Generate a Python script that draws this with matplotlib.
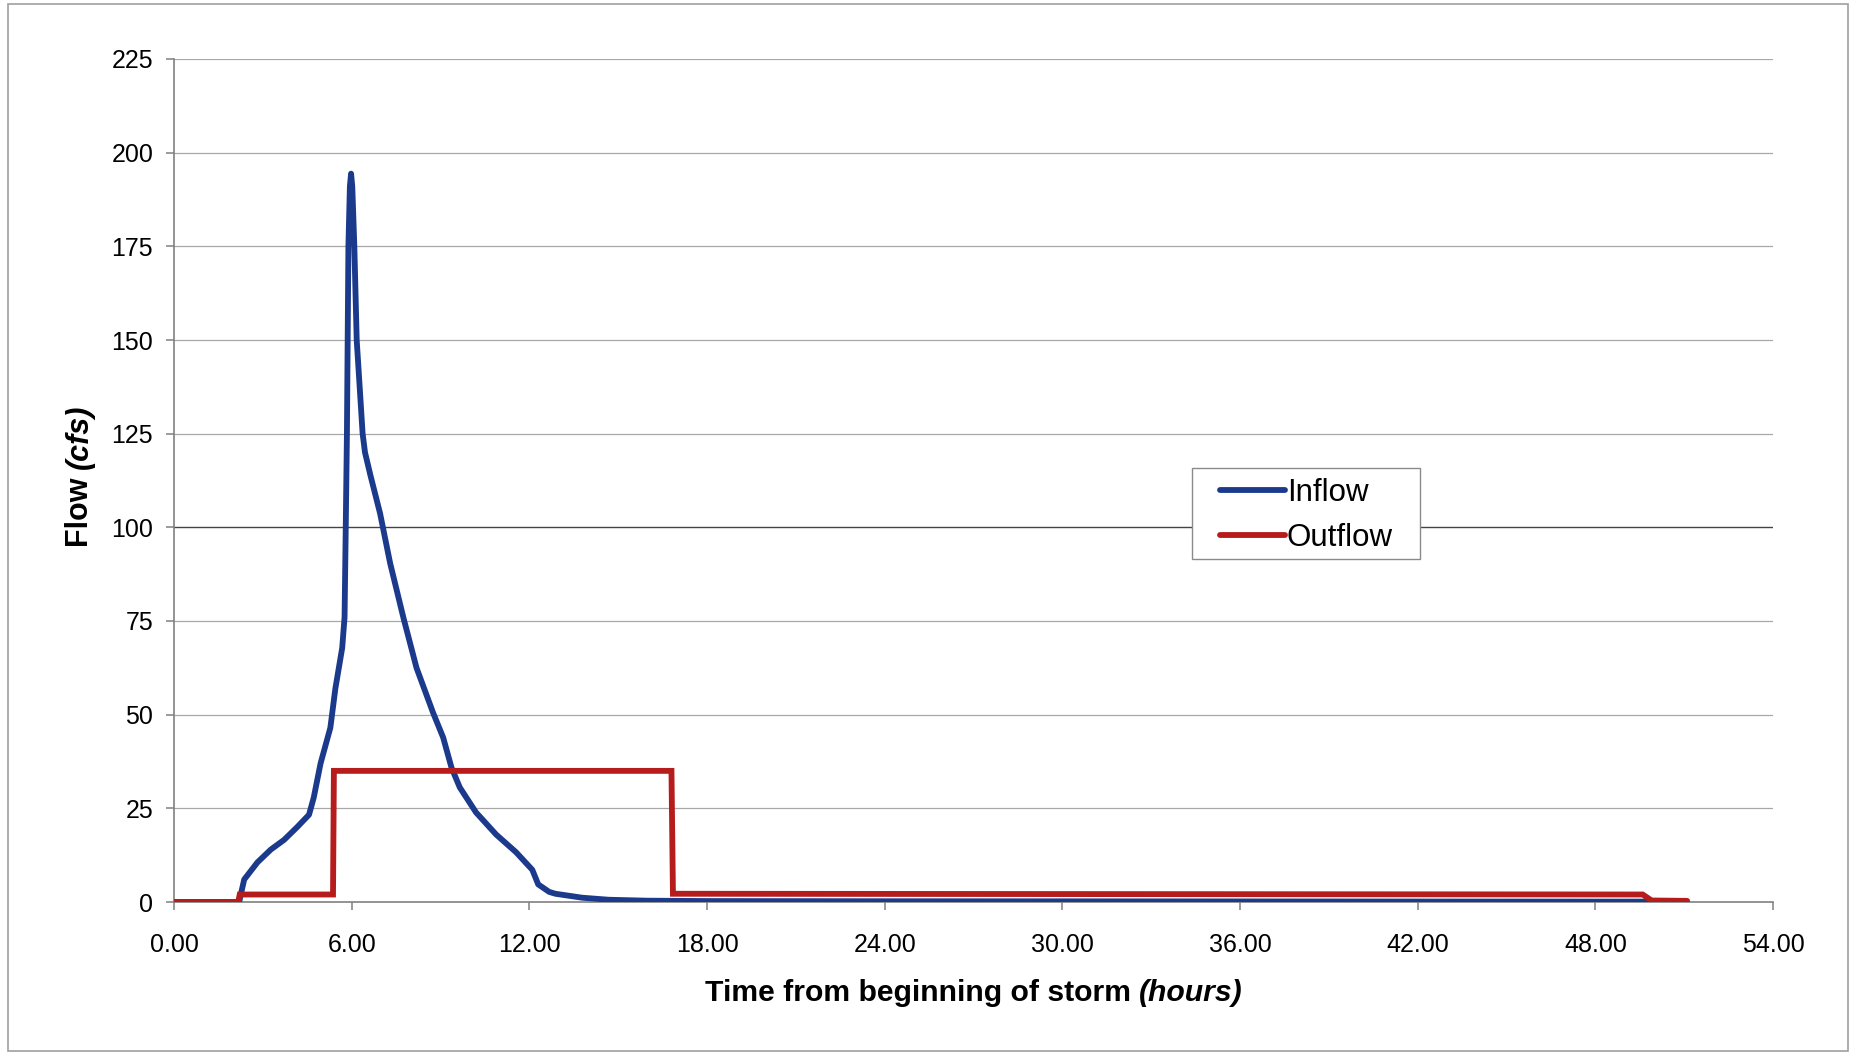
import matplotlib
matplotlib.use("Agg")
import matplotlib.pyplot as plt
from matplotlib.patches import Rectangle
from matplotlib.lines import Line2D
from matplotlib.legend_handler import HandlerLine2D

# Inflow hydrograph (hours, cfs)
inflow_t = [0.00, 2.10, 2.20, 2.37, 2.82, 3.27, 3.72, 4.16, 4.56, 4.72, 4.95,
            5.28, 5.45, 5.68, 5.76, 5.80, 5.84, 5.89, 5.94, 5.98, 6.02, 6.09,
            6.17, 6.37, 6.45, 6.63, 6.96, 7.30, 7.75, 8.19, 8.75, 9.09, 9.37,
            9.65, 10.20, 10.88, 11.55, 12.10, 12.30, 12.67, 12.88, 13.78,
            14.68, 15.97, 18.00, 24.00, 30.00, 36.00, 42.00, 49.80]
inflow_q = [0.0, 0.0, 0.0, 6.0, 10.6, 14.0, 16.6, 20.0, 23.3, 27.9, 37.0,
            46.5, 57.0, 67.8, 76.0, 100.0, 125.0, 175.0, 191.0, 194.4, 191.0,
            175.0, 150.0, 125.0, 120.0, 114.0, 103.7, 90.4, 75.8, 62.5, 50.5,
            43.9, 35.9, 30.6, 23.9, 18.0, 13.3, 8.6, 4.7, 2.7, 2.2, 1.15, 0.6,
            0.35, 0.25, 0.2, 0.18, 0.15, 0.12, 0.1]

# Outflow from the pond outlet (hours, cfs)
outflow_t = [0.00, 2.17, 2.22, 5.37, 5.40, 16.80, 16.85, 49.60, 49.90, 51.10]
outflow_q = [0.0, 0.0, 2.0, 2.0, 35.0, 35.0, 2.2, 2.0, 0.4, 0.3]

x_ticks = [0, 6, 12, 18, 24, 30, 36, 42, 48, 54]
y_ticks = [0, 25, 50, 75, 100, 125, 150, 175, 200, 225]

W, H = 1853, 1055
fig = plt.figure(figsize=(W / 100, H / 100), dpi=100)
fig.patch.set_facecolor("white")


def fig_rect(x0, y0, x1, y1, **kw):
    """Rectangle given in pixel coordinates measured from the top-left corner."""
    return Rectangle((x0 / W, 1 - y1 / H), (x1 - x0) / W, (y1 - y0) / H,
                     transform=fig.transFigure, **kw)


# outer chart frame
fig.add_artist(fig_rect(8, 4, 1848, 1051, fill=False, edgecolor="#a0a0a0",
                        linewidth=1.2))

left, right, top, bottom = 174, 1773, 59, 902
ax = fig.add_axes([left / W, 1 - bottom / H, (right - left) / W, (bottom - top) / H])

ax.set_xlim(0, 54)
ax.set_ylim(0, 225)

for v in y_ticks[1:]:
    ax.axhline(v, color="#444444" if v == 100 else "#a8a8a8",
               linewidth=1.0 if v == 100 else 0.9, zorder=1)

ax.plot(inflow_t, inflow_q, color="#1b3a8c", linewidth=4.2,
        solid_joinstyle="round", solid_capstyle="round", zorder=3, label="Inflow")
ax.plot(outflow_t, outflow_q, color="#b71c1c", linewidth=4.2,
        solid_joinstyle="miter", solid_capstyle="round", zorder=4, label="Outflow")

for s in ["top", "right"]:
    ax.spines[s].set_visible(False)
for s in ["left", "bottom"]:
    ax.spines[s].set_color("#808080")
    ax.spines[s].set_linewidth(1.2)

font = "Liberation Sans"
ax.set_xticks(x_ticks)
ax.set_xticklabels([f"{v:.2f}" for v in x_ticks], fontsize=18, family=font)
ax.set_yticks(y_ticks)
ax.set_yticklabels([str(v) for v in y_ticks], fontsize=18, family=font)
ax.tick_params(axis="both", direction="out", length=6, width=1.1,
               color="#808080")
ax.tick_params(axis="x", pad=16)
ax.tick_params(axis="y", pad=9)

# legend box with its own white frame
lx0, ly0, lx1, ly1 = 1192, 468, 1420, 559
box = fig_rect(lx0, ly0, lx1, ly1, fill=True, facecolor="white",
               edgecolor="#8a8a8a", linewidth=1.0, zorder=5, clip_on=False)
ax.add_artist(box)

leg_fs = 22.5
leg = ax.legend(loc="upper left",
                bbox_to_anchor=(lx0 / W, 1 - (ly0 + 1) / H),
                bbox_transform=fig.transFigure,
                frameon=False, prop={"family": font, "size": leg_fs},
                handlelength=2.7, handletextpad=0.05, borderpad=0.28,
                labelspacing=0.48, borderaxespad=0.0,
                handler_map={Line2D: HandlerLine2D(xpad=0.6)})
leg.set_zorder(6)
for line in leg.get_lines():
    line.set_linewidth(4.2)

# axis titles: bold text followed by bold-italic units
fig.canvas.draw()
renderer = fig.canvas.get_renderer()
narrow = ["Liberation Sans Narrow", "Liberation Sans"]

xl1 = fig.text(0, 0, "Time from beginning of storm ", fontsize=21.7, fontweight="bold",
               family=narrow, transform=fig.transFigure)
xl2 = fig.text(0, 0, "(hours)", fontsize=21.7, fontweight="bold", style="italic",
               family=narrow, transform=fig.transFigure)
w1 = xl1.get_window_extent(renderer).width
w2 = xl2.get_window_extent(renderer).width
cx, cy = 974, H - 993
x0 = cx - (w1 + w2) / 2
xl1.set_position((x0 / W, cy / H))
xl1.set_va("center")
xl2.set_position(((x0 + w1) / W, cy / H))
xl2.set_va("center")

yl1 = fig.text(0, 0, "Flow ", fontsize=22, fontweight="bold", rotation=90,
               family=narrow, transform=fig.transFigure)
yl2 = fig.text(0, 0, "(cfs)", fontsize=22, fontweight="bold", style="italic",
               rotation=90, family=narrow, transform=fig.transFigure)
h1 = yl1.get_window_extent(renderer).height
h2 = yl2.get_window_extent(renderer).height
ycx, ycy = 80, H - 476
y0 = ycy - (h1 + h2) / 2
yl1.set_position((ycx / W, y0 / H))
yl1.set_ha("center")
yl1.set_va("bottom")
yl2.set_position((ycx / W, (y0 + h1) / H))
yl2.set_ha("center")
yl2.set_va("bottom")

fig.savefig("out.png", dpi=100, facecolor="white")
